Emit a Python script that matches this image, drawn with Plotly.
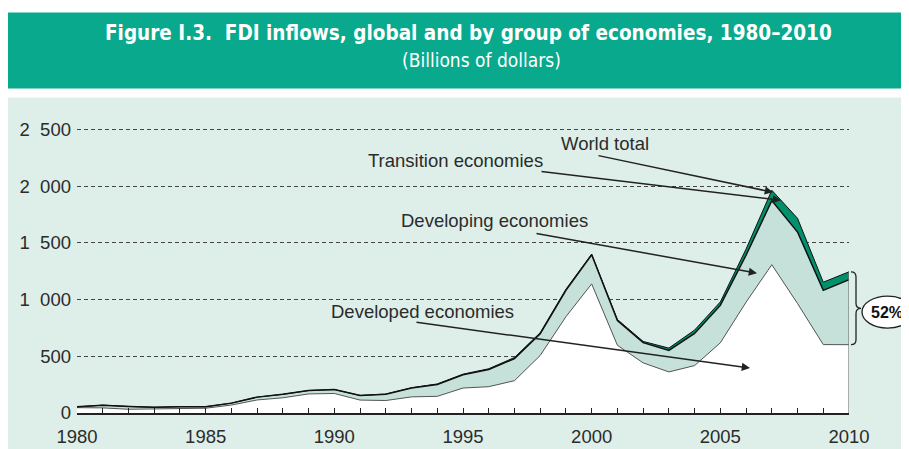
import plotly.graph_objects as go

years = list(range(1980, 2011))
developed = [47, 45, 33, 36, 42, 42, 70, 115, 134, 168, 172, 114, 110, 142, 147, 220, 232, 285, 507,
             849, 1138, 597, 442, 362, 418, 619, 977, 1307, 965, 603, 602]
developing = [7, 24, 25, 14, 14, 14, 17, 25, 31, 30, 35, 41, 55, 78, 105, 117, 152, 194, 191,
              232, 256, 217, 178, 190, 283, 329, 413, 565, 630, 478, 574]
transition = [0, 0, 0, 0, 0, 0, 0, 0, 0, 0, 0, 0, 2, 3, 4, 5, 6, 10, 10,
              10, 7, 10, 11, 20, 30, 31, 55, 91, 121, 72, 68]
world = [a + b + c for a, b, c in zip(developed, developing, transition)]
share_label = "52%"

y_tickvals = [0, 500, 1000, 1500, 2000, 2500]
y_ticktext = ["0", "500", "1\u2007000", "1\u2007500", "2\u2007000", "2\u2007500"]
x_tickvals = [1980, 1985, 1990, 1995, 2000, 2005, 2010]

title_main = "Figure I.3.  FDI inflows, global and by group of economies, 1980–2010"
title_sub = "(Billions of dollars)"

# page geometry (the page body adds an 8px margin around the figure)
OFF = 8
PW, PH = 909, 449
Lp, Rp, Bp = 77, 849, 413
YMAX = 2600
Tp = Bp - (Bp - 129) * YMAX / 2500

W, H = PW - OFF, PH - OFF
L, R, T, B = Lp - OFF, Rp - OFF, Tp - OFF, Bp - OFF


def fx(px):
    return (px - Lp) / (Rp - Lp)


def fy(py):
    return (Bp - py) / (Bp - Tp)


def px2x(px):
    return years[0] + (px - Lp) / (Rp - Lp) * (years[-1] - years[0])


def py2y(py):
    return (Bp - py) / (Bp - Tp) * YMAX


BANNER = "#09a98d"
PANEL = "#deefe9"
DEVG = "#c5e1d9"
TRANS = "#00916c"
TXT = "#2b2b2b"
FONT = "Liberation Sans, Arial, sans-serif"
NARROW = "Liberation Sans Narrow, DejaVu Sans Condensed, Arial Narrow, sans-serif"

fig = go.Figure()
fig.add_trace(go.Scatter(x=years, y=developed, stackgroup="one", mode="lines",
                         fillcolor="white", line=dict(color="#555555", width=1)))
fig.add_trace(go.Scatter(x=years, y=developing, stackgroup="one", mode="lines",
                         fillcolor=DEVG, line=dict(color="#111111", width=1.5)))
fig.add_trace(go.Scatter(x=years, y=transition, stackgroup="one", mode="lines",
                         fillcolor=TRANS, line=dict(color="#111111", width=1)))
fig.add_trace(go.Scatter(x=[years[-1], years[-1]], y=[0, world[-1]], mode="lines",
                         line=dict(color="#777777", width=1.2)))

shapes = [
    dict(type="rect", xref="paper", yref="paper", x0=fx(8), x1=fx(PW + 20), y0=fy(97), y1=fy(PH + 20),
         fillcolor=PANEL, line=dict(width=0), layer="below"),
    dict(type="rect", xref="paper", yref="paper", x0=fx(0), x1=fx(PW + 20), y0=fy(12), y1=fy(88),
         fillcolor=BANNER, line=dict(width=0), layer="below"),
]

# curly brace spanning developed value to world total at the last year
yt = world[-1] / YMAX
yb = developed[-1] / YMAX
ym = (yt + yb) / 2
d = 5 / (Bp - Tp)
x0, x1, x2 = fx(851), fx(856), fx(861)
brace = (f"M {x0},{yt} Q {x1},{yt} {x1},{yt - d} L {x1},{ym + d} Q {x1},{ym} {x2},{ym} "
         f"Q {x1},{ym} {x1},{ym - d} L {x1},{yb + d} Q {x1},{yb} {x0},{yb}")
shapes.append(dict(type="path", xref="paper", yref="paper", path=brace,
                   line=dict(color="#222222", width=1.3)))
shapes.append(dict(type="circle", xref="paper", yref="paper", x0=fx(862), x1=fx(913),
                   y0=fy(328), y1=fy(296), fillcolor="white", line=dict(color="#222222", width=1.3)))

C = dict(xref="paper", yref="paper", xanchor="center", yanchor="middle", showarrow=False)
annotations = [
    dict(text=f"<b>{title_main}</b>", x=fx(468), y=fy(33),
         font=dict(family=NARROW, size=20.5, color="white"), **C),
    dict(text=title_sub, x=fx(481), y=fy(60),
         font=dict(family=NARROW, size=19, color="white"), **C),
    dict(text=f"<b>{share_label}</b>", x=fx(887), y=fy(312),
         font=dict(family=FONT, size=16, color="#111111"), **C),
]

labels = [
    ("World total", 605, 143),
    ("Transition economies", 455, 160),
    ("Developing economies", 494, 220),
    ("Developed economies", 422, 311),
]
for t, px, py in labels:
    annotations.append(dict(text=t, x=fx(px), y=fy(py),
                            font=dict(family=FONT, size=18.5, color=TXT), **C))

arrows = [
    ((597, 155), (773, 192)),
    ((540, 171), (781, 200)),
    ((535, 233), (757, 273)),
    ((415, 322), (750, 368)),
]
for (tx, ty), (hx, hy) in arrows:
    annotations.append(dict(text="", x=px2x(hx), y=py2y(hy), ax=px2x(tx), ay=py2y(ty),
                            xref="x", yref="y", axref="x", ayref="y", showarrow=True,
                            arrowhead=2, arrowsize=1.1, arrowwidth=1.5, arrowcolor="#222222",
                            standoff=0, startstandoff=0))

fig.update_layout(
    width=W, height=H,
    margin=dict(l=L, r=W - R, t=T, b=H - B, autoexpand=False),
    paper_bgcolor="white",
    plot_bgcolor="rgba(0,0,0,0)",
    showlegend=False,
    shapes=shapes,
    annotations=annotations,
    xaxis=dict(range=[years[0], years[-1]], tickvals=x_tickvals, ticks="inside", ticklen=5,
               tickwidth=1.2, tickcolor="#222222", showline=True, linecolor="#222222", linewidth=2,
               showgrid=False, zeroline=False, automargin=False, ticklabelstandoff=6,
               minor=dict(dtick=1, ticks="inside", ticklen=5, tickcolor="#222222", tickwidth=1.2),
               tickfont=dict(family=FONT, size=18.5, color=TXT)),
    yaxis=dict(range=[0, YMAX], tickvals=y_tickvals, ticktext=y_ticktext, showline=False,
               zeroline=False, showgrid=True, gridcolor="#444444", gridwidth=1, griddash="4px,3px",
               ticks="", automargin=False, ticklabelstandoff=5,
               tickfont=dict(family=FONT, size=18.5, color=TXT)),
)

fig.write_html("out.html")
